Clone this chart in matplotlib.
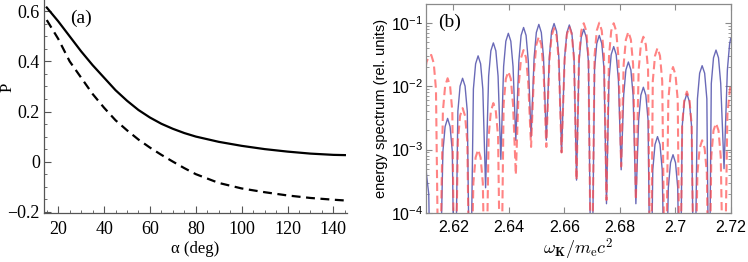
import matplotlib
matplotlib.use("Agg")
import matplotlib.pyplot as plt
from matplotlib.ticker import MultipleLocator, FixedLocator, LogLocator, NullFormatter

# panel (a): polarisation vs angle
alpha = [15, 20, 25, 30, 35, 40, 45, 50, 55, 60, 65, 70, 75, 80, 90, 100, 110, 120, 130, 140, 145]
p_solid = [0.615, 0.56, 0.50, 0.44, 0.385, 0.335, 0.285, 0.243, 0.206, 0.176, 0.151, 0.131, 0.114,
           0.1, 0.079, 0.063, 0.05, 0.04, 0.032, 0.027, 0.026]
p_dashed = [0.565, 0.49, 0.40, 0.335, 0.27, 0.215, 0.165, 0.125, 0.088, 0.056, 0.027, 0.0,
            -0.026, -0.05, -0.085, -0.107, -0.122, -0.135, -0.145, -0.152, -0.155]

# panel (b): energy spectrum, one row per lobe (rise, peak, fall, dip)
omega = [2.6100,
         2.6103, 2.6111, 2.6120, 2.6129, 2.6137, 2.6148,
         2.6162, 2.6170, 2.6179, 2.6188, 2.6196, 2.6205,
         2.6216, 2.6224, 2.6233, 2.6242, 2.6250, 2.6260,
         2.6272, 2.6280, 2.6289, 2.6298, 2.6306, 2.6316,
         2.6327, 2.6335, 2.6344, 2.6353, 2.6361, 2.6371,
         2.6381, 2.6389, 2.6398, 2.6407, 2.6415, 2.6425,
         2.6436, 2.6444, 2.6453, 2.6462, 2.6470, 2.6480,
         2.6491, 2.6499, 2.6508, 2.6517, 2.6525, 2.6535,
         2.6546, 2.6554, 2.6563, 2.6572, 2.6580, 2.6590,
         2.6601, 2.6609, 2.6618, 2.6627, 2.6635, 2.6644,
         2.6653, 2.6661, 2.6670, 2.6679, 2.6687, 2.6698,
         2.6709, 2.6717, 2.6726, 2.6735, 2.6743, 2.6752,
         2.6761, 2.6769, 2.6778, 2.6787, 2.6795, 2.6805,
         2.6814, 2.6822, 2.6831, 2.6840, 2.6848, 2.6858,
         2.6868, 2.6876, 2.6885, 2.6894, 2.6902, 2.6911,
         2.6919, 2.6927, 2.6936, 2.6945, 2.6953, 2.6964,
         2.6975, 2.6983, 2.6992, 2.7001, 2.7009, 2.7017,
         2.7025, 2.7033, 2.7042, 2.7051, 2.7059, 2.7069,
         2.7080, 2.7088, 2.7097, 2.7106, 2.7114, 2.7122,
         2.7130, 2.7138, 2.7147, 2.7156, 2.7164, 2.7176,
         2.7188, 2.7196, 2.7200]

spec_blue = [6e-4,
             4e-4, 2e-4, 1e-6, 1e-6, 1e-6, 1e-6,
             9.3e-4, 2.3e-3, 3.1e-3, 2.3e-3, 9.3e-4, 1e-6,
             4e-3, 1e-2, 1.33e-2, 1e-2, 4e-3, 1e-6,
             9e-3, 2.25e-2, 3e-2, 2.25e-2, 9e-3, 2.5e-4,
             1.44e-2, 3.6e-2, 4.8e-2, 3.6e-2, 1.44e-2, 7e-4,
             2.04e-2, 5.1e-2, 6.8e-2, 5.1e-2, 2.04e-2, 1.4e-3,
             2.5e-2, 6.3e-2, 8.4e-2, 6.3e-2, 2.5e-2, 1.6e-3,
             2.8e-2, 7e-2, 9.4e-2, 7e-2, 2.8e-2, 1.4e-3,
             2.9e-2, 7.3e-2, 9.7e-2, 7.3e-2, 2.9e-2, 9e-4,
             2.8e-2, 6.9e-2, 9.2e-2, 6.9e-2, 2.8e-2, 3.3e-4,
             2.4e-2, 5.9e-2, 7.9e-2, 5.9e-2, 2.4e-2, 1e-6,
             1.9e-2, 4.7e-2, 6.3e-2, 4.7e-2, 1.9e-2, 1.4e-4,
             1.26e-2, 3.15e-2, 4.2e-2, 3.15e-2, 1.26e-2, 4.8e-4,
             7.2e-3, 1.8e-2, 2.4e-2, 1.8e-2, 7.2e-3, 1.4e-4,
             2.9e-3, 7.2e-3, 9.6e-3, 7.2e-3, 2.9e-3, 1e-6,
             4.8e-4, 1.2e-3, 1.6e-3, 1.2e-3, 4.8e-4, 1e-6,
             2.5e-4, 6.2e-4, 8.3e-4, 6.2e-4, 2.5e-4, 1e-6,
             2.3e-3, 5.7e-3, 7.6e-3, 5.7e-3, 2.3e-3, 1e-6,
             6.3e-3, 1.6e-2, 2.1e-2, 1.6e-2, 6.3e-3, 1e-6,
             1.1e-2, 2.8e-2, 3.7e-2, 2.8e-2, 1.1e-2, 5e-4,
             1.8e-2, 4.6e-2, 5.6e-2]

spec_red = [2.0e-2,
            2.4e-2, 2.9e-2, 3.1e-2, 2.3e-2, 9e-3, 1e-6,
            4e-3, 1e-2, 1.33e-2, 1e-2, 4e-3, 1e-6,
            1.35e-3, 3.4e-3, 4.5e-3, 3.4e-3, 1.35e-3, 1e-6,
            3e-4, 7.5e-4, 1e-3, 7.5e-4, 3e-4, 1e-6,
            1.6e-3, 4e-3, 5.4e-3, 4e-3, 1.6e-3, 1e-6,
            5.1e-3, 1.3e-2, 1.7e-2, 1.3e-2, 5.1e-3, 4e-4,
            1.1e-2, 2.8e-2, 3.7e-2, 2.8e-2, 1.1e-2, 1.1e-3,
            1.8e-2, 4.5e-2, 6e-2, 4.5e-2, 1.8e-2, 1.1e-3,
            2.5e-2, 6.2e-2, 8.2e-2, 6.2e-2, 2.5e-2, 9e-4,
            2.6e-2, 6.5e-2, 8.7e-2, 6.5e-2, 2.6e-2, 3.3e-4,
            2.9e-2, 7.4e-2, 9.8e-2, 7.4e-2, 2.9e-2, 1e-6,
            3e-2, 7.5e-2, 1e-1, 7.5e-2, 3e-2, 1.6e-4,
            2.9e-2, 7.4e-2, 9.8e-2, 7.4e-2, 2.9e-2, 5.4e-4,
            2.2e-2, 5.4e-2, 7.2e-2, 5.4e-2, 2.2e-2, 1.6e-4,
            1.8e-2, 4.5e-2, 6e-2, 4.5e-2, 1.8e-2, 1e-6,
            1.2e-2, 3e-2, 4e-2, 3e-2, 1.2e-2, 1e-6,
            6e-3, 1.5e-2, 2e-2, 1.5e-2, 6e-3, 1e-6,
            2.5e-3, 6.2e-3, 8.2e-3, 6.2e-3, 2.5e-3, 1e-6,
            4.2e-4, 1.05e-3, 1.4e-3, 1.05e-3, 4.2e-4, 1e-6,
            7.8e-4, 2e-3, 2.6e-3, 2e-3, 7.8e-4, 1e-6,
            3.5e-3, 8e-3, 1.1e-2]

xticks_b = [2.62, 2.64, 2.66, 2.68, 2.70, 2.72]
xlabels_b = ["2.62", "2.64", "2.66", "2.68", "2.7", "2.72"]
yticks_a = [-0.2, 0, 0.2, 0.4, 0.6]
ylabels_a = ["\u22120.2", "0", "0.2", "0.4", "0.6"]

serif = "Liberation Serif"
sans = "Liberation Sans"

fig = plt.figure(figsize=(7.48, 2.62), dpi=100)

# ---- (a) Mathematica-like panel
ax1 = fig.add_axes([44 / 748, 49 / 262, 302.7 / 748, 213 / 262])
ax1.plot(alpha, p_solid, color="black", lw=1.6)
ax1.plot(alpha, p_dashed, color="black", lw=1.6, ls="--", dashes=(4, 2.5))
ax1.set_xlim(13.8, 145.8)
ax1.set_ylim(-0.205, 0.645)
for s in ["top", "right"]:
    ax1.spines[s].set_visible(False)
for s in ["left", "bottom"]:
    ax1.spines[s].set_color("#555555")
    ax1.spines[s].set_linewidth(0.9)
ax1.xaxis.set_major_locator(MultipleLocator(20))
ax1.xaxis.set_minor_locator(MultipleLocator(5))
ax1.set_yticks(yticks_a)
ax1.set_yticklabels(ylabels_a)
ax1.yaxis.set_minor_locator(MultipleLocator(0.05))
ax1.tick_params(which="both", direction="in", color="#555555")
ax1.tick_params(which="major", length=5, width=0.8)
ax1.tick_params(which="minor", length=2.5, width=0.6)
ax1.tick_params(axis="x", pad=6)
ax1.tick_params(axis="y", pad=3)
for lab in ax1.get_xticklabels() + ax1.get_yticklabels():
    lab.set_fontfamily(serif)
    lab.set_fontsize(13)
ax1.set_xlabel("\u03b1 (deg)", fontfamily=serif, fontsize=12, labelpad=2)
ax1.set_ylabel("P", fontfamily=serif, fontsize=12, va="center")
ax1.yaxis.set_label_coords(-0.122, 0.59)
ax1.text(0.085, 0.955, "(a)", transform=ax1.transAxes, fontfamily=serif,
         fontsize=14, va="top", ha="left")

# ---- (b) MATLAB-like panel
ax2 = fig.add_axes([425.7 / 748, 49 / 262, 305 / 748, 209 / 262])
ax2.semilogy(omega, spec_blue, color="#5a5ab0", lw=1.0, alpha=0.9)
ax2.semilogy(omega, spec_red, color="#ff4f4f", lw=1.5, alpha=0.7, ls="--", dashes=(4, 2.2))
ax2.set_xlim(2.61, 2.72)
ax2.set_ylim(1e-4, 0.197)
ax2.set_xticks(xticks_b)
ax2.set_xticklabels(xlabels_b)
ax2.yaxis.set_major_locator(FixedLocator([1e-4, 1e-3, 1e-2, 1e-1]))
ax2.yaxis.set_minor_locator(LogLocator(base=10, subs=range(2, 10)))
ax2.yaxis.set_minor_formatter(NullFormatter())
for s in ax2.spines.values():
    s.set_color("#8a8a8a")
    s.set_linewidth(0.9)
ax2.tick_params(which="both", direction="in", top=True, right=True, color="#8a8a8a")
ax2.tick_params(which="major", length=4, width=0.8)
ax2.tick_params(which="minor", length=2, width=0.6)
ax2.tick_params(axis="y", pad=2)
ax2.tick_params(axis="x", pad=5)
for lab in ax2.get_xticklabels() + ax2.get_yticklabels():
    lab.set_fontfamily(sans)
    lab.set_fontsize(11.5)
ax2.set_ylabel("energy spectrum (rel. units)", fontfamily=sans, fontsize=10.5, labelpad=2)
ax2.set_xlabel(r"$\omega_{\mathbf{K}}/m_{\mathrm{e}}c^2$", fontsize=13, labelpad=1,
               math_fontfamily="cm")
ax2.text(0.04, 0.955, "(b)", transform=ax2.transAxes, fontfamily=serif,
         fontsize=14, va="top", ha="left")

fig.savefig("out.png", dpi=100)
